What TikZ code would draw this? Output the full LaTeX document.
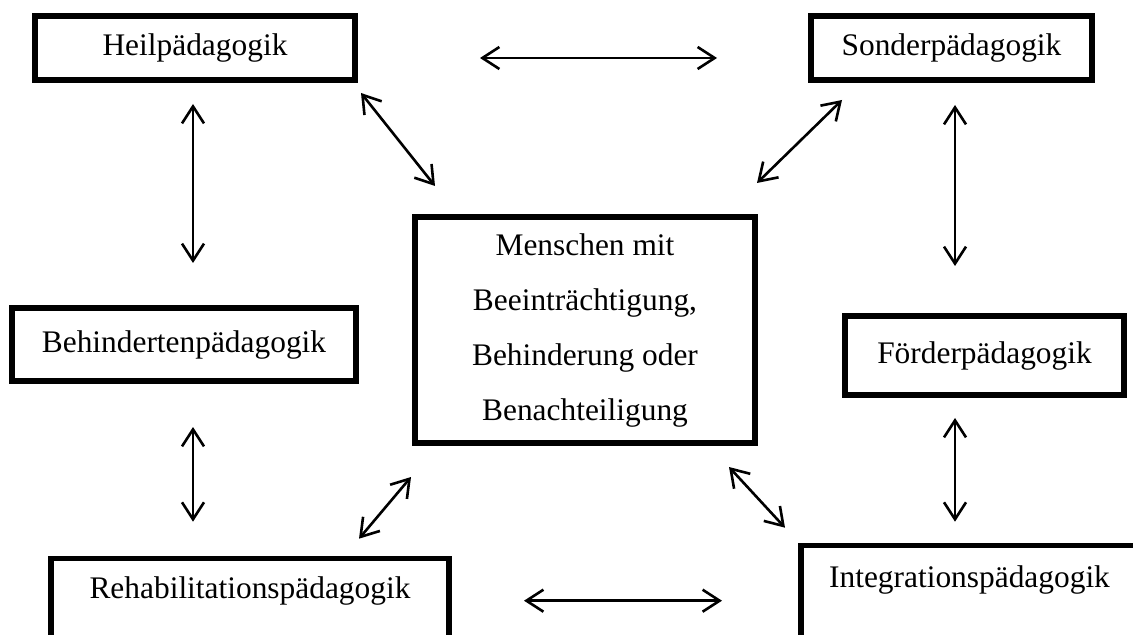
\documentclass[tikz,border=0pt]{standalone}
\usepackage{fontspec}
\setmainfont{Liberation Serif}
\usetikzlibrary{arrows.meta}

\tikzset{
  box/.style={draw, line width=2.8pt, inner sep=2pt, align=center},
  openbox/.style={box, anchor=base, inner ysep=0pt, text depth=60pt},
  link/.style={line width=1.3pt, {Straight Barb[length=8.5pt,width=11pt]}-{Straight Barb[length=8.5pt,width=11pt]}}
}

\begin{document}
\begin{tikzpicture}[x=0.5pt, y=-0.5pt]
        \fontsize{15.7pt}{27.5pt}\selectfont
        \useasboundingbox (0,0) rectangle (1133,635);
        \clip (0,0) rectangle (1133,635);
        % Boxes
        \node[box, minimum width=160.2pt, minimum height=32.2pt] (heil) at (195,48) {Heilpädagogik};
        \node[box, minimum width=140.7pt, minimum height=32.2pt] (sonder) at (951.5,48) {Sonderpädagogik};
        \node[box, minimum width=172.2pt, minimum height=36.7pt] (behind) at (184,344.5) {Behindertenpädagogik};
        \node[box, minimum width=139.7pt, minimum height=39.7pt] (foerder) at (984.5,355.5) {Förderpädagogik};
        \node[box, minimum width=170.2pt, minimum height=113.2pt] (mensch) at (585,330)
          {Menschen mit\\Beeinträchtigung,\\Behinderung oder\\Benachteiligung};
        % Boxes cut off at the lower edge
        \node[openbox, minimum width=199.2pt, text height=19.75pt] (rehab) at (250,598) {Rehabilitationspädagogik};
        \node[openbox, minimum width=168.7pt, text height=20.75pt] (integ) at (969.5,587) {Integrationspädagogik};
        % Arrows between the boxes
        \draw[link] ([shift={(122,10)}]heil.east) -- ([shift={(-91,10)}]sonder.west);
        \draw[link] ([shift={(3,10)}]heil.south east) -- ([shift={(23,-28)}]mensch.north west);
        \draw[link] ([shift={(34,17)}]sonder.south west) -- ([shift={(-1,-31)}]mensch.north east);
        \draw[link] ([shift={(-2,21)}]heil.south) -- ([shift={(9,-42)}]behind.north);
        \draw[link] ([shift={(3.5,22)}]sonder.south) -- ([shift={(-29.5,-47)}]foerder.north);
        \draw[link] ([shift={(9,43)}]behind.south) -- ([shift={(-57,-34)}]rehab.north);
        \draw[link] ([shift={(-29.5,20)}]foerder.south) -- ([shift={(157,-21)}]integ.north west);
        \draw[link] ([shift={(-1,31)}]mensch.south west) -- ([shift={(-93,-17)}]rehab.north east);
        \draw[link] ([shift={(-29,21)}]mensch.south east) -- ([shift={(-13,-15)}]integ.north west);
        \draw[link] ([shift={(72,45)}]rehab.north east) -- ([shift={(-76,58)}]integ.north west);
      \end{tikzpicture}
\end{document}
